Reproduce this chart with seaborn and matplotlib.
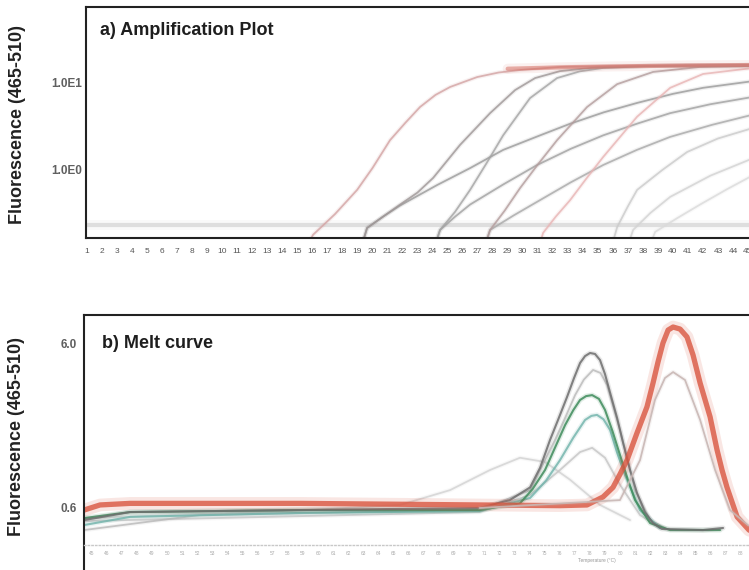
import matplotlib
matplotlib.use('Agg')
import matplotlib.pyplot as plt
from matplotlib.ticker import NullLocator
import seaborn as sns

# ---- a) amplification curves: cycle number / fluorescence (465-510) ----
amp_a_cyc = [15.5, 16.05, 17.5, 18.98, 20.0, 21.17, 22.2, 23.17, 24.2, 25.17, 26.97, 28.4, 29.83, 32.49, 36.5, 40.5, 45.5]
amp_a_flu = [0.12, 0.18, 0.31, 0.59, 1.05, 2.2, 3.5, 5.3, 7.3, 9.0, 11.7, 13.2, 14.1, 15.3, 15.7, 15.9, 16.1]
amp_b_cyc = [19.3, 19.64, 20.7, 21.84, 23.0, 24.04, 25.83, 27.83, 29.5, 30.83, 32.49, 35.16, 38.48, 45.5]
amp_b_flu = [0.137, 0.215, 0.29, 0.40, 0.55, 0.81, 1.94, 4.5, 8.3, 11.4, 13.7, 15.3, 15.7, 16.1]
amp_c_cyc = [19.3, 19.64, 20.7, 21.84, 24.30, 26.50, 28.70, 31.16, 33.16, 35.4, 37.62, 40.0, 42.01, 45.5]
amp_c_flu = [0.137, 0.215, 0.29, 0.39, 0.67, 1.05, 1.70, 2.5, 3.4, 4.6, 5.9, 7.5, 8.8, 10.6]
amp_d_cyc = [24.17, 24.5, 25.5, 26.5, 27.6, 28.7, 30.49, 32.29, 33.8, 35.36, 38.48, 45.5]
amp_d_flu = [0.137, 0.204, 0.33, 0.59, 1.2, 2.5, 6.7, 11.4, 13.6, 14.9, 15.7, 16.1]
amp_e_cyc = [24.17, 24.5, 25.5, 26.5, 28.7, 30.96, 33.2, 35.36, 37.6, 39.82, 42.5, 45.5]
amp_e_flu = [0.137, 0.204, 0.29, 0.40, 0.68, 1.14, 1.75, 2.5, 3.4, 4.5, 5.7, 7.0]
amp_f_cyc = [27.5, 27.83, 28.8, 29.83, 31.0, 32.29, 34.29, 36.29, 38.68, 41.81, 45.5]
amp_f_flu = [0.137, 0.204, 0.34, 0.62, 1.15, 2.2, 5.3, 9.7, 13.4, 15.3, 15.7]
amp_g_cyc = [27.5, 27.83, 29.4, 30.96, 33.2, 35.36, 37.6, 39.82, 42.6, 45.5]
amp_g_flu = [0.137, 0.204, 0.30, 0.43, 0.72, 1.14, 1.7, 2.4, 3.3, 4.4]
amp_h_cyc = [31.03, 31.36, 32.2, 33.16, 34.2, 35.36, 37.62, 39.82, 42.01, 45.5]
amp_h_flu = [0.12, 0.189, 0.29, 0.45, 0.78, 1.41, 4.1, 8.8, 12.7, 15.0]
amp_i_cyc = [35.95, 36.29, 37.0, 37.62, 39.3, 40.95, 43.0, 45.5]
amp_i_flu = [0.137, 0.22, 0.38, 0.59, 1.0, 1.61, 2.3, 3.1]
amp_j_cyc = [37.02, 37.35, 38.5, 39.82, 42.5, 45.5]
amp_j_flu = [0.137, 0.204, 0.32, 0.49, 0.86, 1.4]
amp_k_cyc = [38.48, 38.82, 40.3, 41.81, 43.6, 45.5]
amp_k_flu = [0.137, 0.194, 0.28, 0.40, 0.6, 0.9]
baseline_cyc = [1, 45.5]
baseline_flu = [0.235, 0.235]
plateau_cyc = [29, 33, 37, 41, 45.5]
plateau_flu = [14.6, 15.2, 15.6, 15.9, 16.1]
cycle_ticks = list(range(1, 46))

# ---- b) melt curves: temperature / -d(F)/dT ----
melt_red_t = [44.5, 45.56, 47.55, 58.8, 70.7, 76.02, 77.81, 78.87, 79.53, 79.99, 80.46, 81.12, 81.78,
              82.18, 82.51, 82.84, 83.18, 83.51, 83.97, 84.43, 84.83, 85.3, 85.63, 85.96, 86.42,
              86.75, 87.08, 87.75, 88.54, 89.3]
melt_red_f = [0.583, 0.626, 0.64, 0.64, 0.626, 0.62, 0.626, 0.70, 0.80, 0.96, 1.17, 1.71, 2.46,
              3.43, 4.6, 6.0, 7.19, 7.5, 7.29, 6.53, 5.08, 3.43, 2.71, 2.14, 1.35,
              1.02, 0.80, 0.53, 0.441, 0.41]
melt_grey_t = [44.5, 47.55, 58.8, 70.7, 72.7, 74.04, 74.7, 75.36, 75.89, 76.49, 76.95, 77.35, 77.68,
               78.01, 78.34, 78.67, 79.0, 79.34, 79.8, 80.2, 80.66, 81.12, 81.64, 82.18, 82.77,
               85.49, 86.82]
melt_grey_f = [0.507, 0.567, 0.583, 0.60, 0.67, 0.80, 1.05, 1.55, 2.05, 2.83, 3.68, 4.54, 5.0,
               5.22, 5.15, 4.73, 3.89, 2.99, 2.11, 1.49, 1.02, 0.74, 0.567, 0.486, 0.448,
               0.441, 0.454]
melt_green_t = [44.5, 47.55, 58.8, 70.7, 73.37, 74.2, 75.03, 75.7, 76.36, 76.9, 77.35, 77.75, 78.15,
                78.6, 79.0, 79.5, 79.99, 80.5, 80.99, 81.99, 83.31, 86.62]
melt_green_f = [0.521, 0.567, 0.583, 0.583, 0.64, 0.78, 1.02, 1.4, 1.91, 2.35, 2.71, 2.86, 2.90,
                2.75, 2.36, 1.75, 1.26, 0.9, 0.67, 0.486, 0.441, 0.441]
melt_teal_t = [44.5, 47.55, 58.8, 70.7, 74.04, 75.1, 76.02, 76.9, 77.68, 78.1, 78.47, 78.9, 79.34,
               79.8, 80.33, 81.32, 82.64]
melt_teal_f = [0.473, 0.53, 0.56, 0.575, 0.69, 0.88, 1.17, 1.6, 2.05, 2.17, 2.2, 2.07, 1.78,
               1.3, 0.95, 0.583, 0.454]
melt_light1_t = [44.5, 52.18, 70.7, 74.04, 75.69, 76.4, 77.02, 77.6, 78.21, 78.7, 79.14, 79.99,
                 80.99, 81.99, 82.97]
melt_light1_f = [0.441, 0.544, 0.583, 0.77, 1.55, 2.15, 2.90, 3.6, 4.12, 3.95, 3.34, 1.78,
                 0.77, 0.507, 0.454]
melt_light2_t = [44.5, 70.7, 74.04, 76.02, 77.35, 78.15, 79.0, 79.99, 81.32, 82.64]
melt_light2_f = [0.50, 0.567, 0.72, 1.02, 1.31, 1.39, 1.21, 0.83, 0.544, 0.454]
melt_bump_t = [44.5, 58.8, 65.43, 68.74, 71.39, 73.37, 75.03, 76.69, 78.67, 80.66]
melt_bump_f = [0.52, 0.58, 0.626, 0.77, 1.02, 1.21, 1.14, 0.89, 0.626, 0.507]
melt_pale_t = [70.7, 79.99, 81.32, 82.31, 82.97, 83.51, 84.3, 85.3, 86.29, 87.28, 88.5]
melt_pale_f = [0.60, 0.67, 1.17, 2.71, 3.68, 4.0, 3.58, 2.05, 1.02, 0.583, 0.47]
temp_ticks = list(range(45, 89))

sns.set_style('white')
plt.rcParams['font.family'] = ['Liberation Sans', 'DejaVu Sans']

fig = plt.figure(figsize=(7.49, 5.70), dpi=100)
ax_a = fig.add_axes([86 / 749, 332 / 570, 669.5 / 749, 231 / 570])
ax_b = fig.add_axes([84 / 749, 25 / 570, 672 / 749, 230 / 570])


def draw(ax, x, y, color, lw=1.3, alpha=0.8):
    # soft halo first, the scan is blurry
    sns.lineplot(x=x, y=y, ax=ax, color=color, lw=lw * 2.4, alpha=alpha * 0.18,
                 sort=False, estimator=None, solid_joinstyle='round', solid_capstyle='round')
    sns.lineplot(x=x, y=y, ax=ax, color=color, lw=lw, alpha=alpha,
                 sort=False, estimator=None, solid_joinstyle='round', solid_capstyle='round')


# panel a
ax_a.set_yscale('log')
draw(ax_a, baseline_cyc, baseline_flu, '#dedede', lw=3, alpha=1)
draw(ax_a, amp_k_cyc, amp_k_flu, '#dadada', alpha=0.8)
draw(ax_a, amp_j_cyc, amp_j_flu, '#d2d2d2', alpha=0.8)
draw(ax_a, amp_i_cyc, amp_i_flu, '#cacaca', alpha=0.8)
draw(ax_a, amp_g_cyc, amp_g_flu, '#a8a8a8')
draw(ax_a, amp_e_cyc, amp_e_flu, '#a0a0a0')
draw(ax_a, amp_c_cyc, amp_c_flu, '#9a9a9a')
draw(ax_a, amp_h_cyc, amp_h_flu, '#e8b4b4')
draw(ax_a, amp_f_cyc, amp_f_flu, '#b39c9c')
draw(ax_a, amp_d_cyc, amp_d_flu, '#a3a3a3')
draw(ax_a, amp_b_cyc, amp_b_flu, '#9e9696')
draw(ax_a, amp_a_cyc, amp_a_flu, '#d3a3a3')
draw(ax_a, plateau_cyc, plateau_flu, '#d4665a', lw=3, alpha=0.5)

ax_a.set_xlim(0.93, 45.5)
ax_a.set_ylim(0.165, 74.8)
ax_a.set_xticks(cycle_ticks)
ax_a.set_xticklabels([str(c) for c in cycle_ticks], fontsize=6, color='#555555')
ax_a.set_yticks([1, 10])
ax_a.set_yticklabels(['1.0E0', '1.0E1'], fontsize=8.5, color='#606060', fontweight='bold')
ax_a.yaxis.set_minor_locator(NullLocator())
ax_a.tick_params(axis='x', length=0, pad=7.5)
ax_a.tick_params(axis='y', length=0, pad=3)
for s in ax_a.spines.values():
    s.set_color('#222222')
    s.set_linewidth(1.5)
ax_a.set_xlabel('')
ax_a.set_ylabel('Fluorescence (465-510)', fontsize=13, fontweight='bold', color='#222222')
ax_a.yaxis.set_label_coords(-0.09, 0.49)
ax_a.text(0.021, 0.935, 'a) Amplification Plot', transform=ax_a.transAxes,
          fontsize=13, fontweight='bold', color='#1e1e1e', va='top', ha='left')

# panel b
ax_b.set_yscale('log')
draw(ax_b, melt_bump_t, melt_bump_f, '#d2d2d2', alpha=0.8)
draw(ax_b, melt_light2_t, melt_light2_f, '#c4c4c4', alpha=0.8)
draw(ax_b, melt_light1_t, melt_light1_f, '#b8b8b8', alpha=0.8)
draw(ax_b, melt_teal_t, melt_teal_f, '#6fb3aa', lw=1.5, alpha=0.8)
draw(ax_b, melt_green_t, melt_green_f, '#3f8c5c', lw=1.5, alpha=0.85)
draw(ax_b, melt_grey_t, melt_grey_f, '#6e6e6e', lw=1.5, alpha=0.85)
draw(ax_b, melt_red_t, melt_red_f, '#d9553f', lw=3.8, alpha=0.8)
draw(ax_b, melt_pale_t, melt_pale_f, '#c9b8b5', lw=1.3, alpha=0.9)

ax_b.set_xlim(44.5, 89.0)
ax_b.set_ylim(0.358, 8.87)
ax_b.set_xticks(temp_ticks)
ax_b.set_xticklabels([str(t) for t in temp_ticks], fontsize=3.5, color='#aaaaaa')
ax_b.set_yticks([0.6, 6.0])
ax_b.set_yticklabels(['0.6', '6.0'], fontsize=8.5, color='#606060', fontweight='bold')
ax_b.yaxis.set_minor_locator(NullLocator())
ax_b.tick_params(axis='x', length=0, pad=4)
ax_b.tick_params(axis='y', length=0, pad=5)
for s in ax_b.spines.values():
    s.set_color('#222222')
    s.set_linewidth(1.5)
ax_b.spines['bottom'].set_color('#c8c8c8')
ax_b.spines['bottom'].set_linestyle(':')
ax_b.spines['bottom'].set_linewidth(1)
ax_b.spines['left'].set_bounds(0.25, 8.87)
ax_b.set_xlabel('Temperature (°C)', fontsize=3.5, color='#999999')
ax_b.xaxis.set_label_coords(0.763, -0.055)
ax_b.set_ylabel('Fluorescence (465-510)', fontsize=13, fontweight='bold', color='#222222')
ax_b.yaxis.set_label_coords(-0.0875, 0.47)
ax_b.text(0.027, 0.915, 'b) Melt curve', transform=ax_b.transAxes,
          fontsize=13, fontweight='bold', color='#1e1e1e', va='top', ha='left')

fig.savefig('out.png', dpi=100)
